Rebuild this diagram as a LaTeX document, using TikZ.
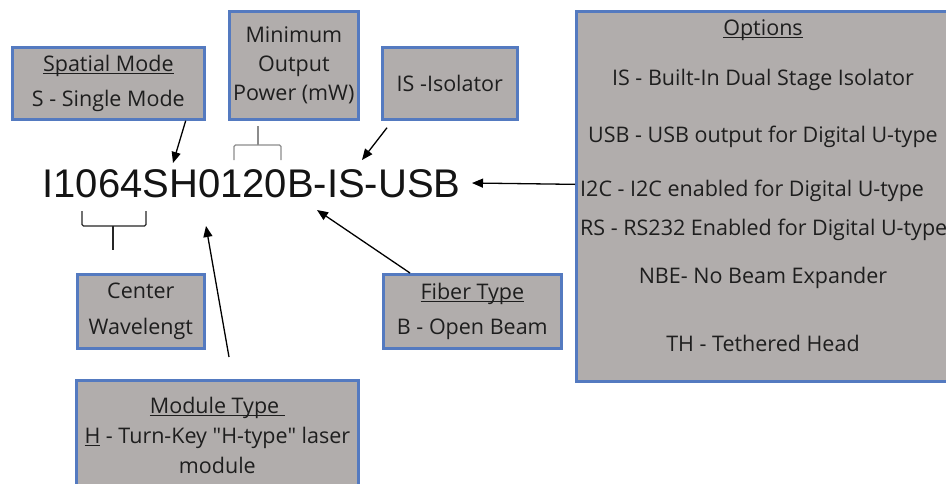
\documentclass[tikz,border=0pt]{standalone}
\usepackage{fontspec}
\setmainfont{Open Sans}[Ligatures=TeXOff]
\newfontfamily\arialf{Liberation Sans}
\usetikzlibrary{arrows.meta}
\definecolor{boxfill}{RGB}{177,173,172}
\definecolor{boxline}{RGB}{84,122,192}
\definecolor{txt}{RGB}{30,30,30}
\definecolor{brk}{RGB}{140,140,140}
\newcommand\ulx[1]{\setbox0\hbox{#1}\leavevmode\rlap{\rule[-3pt]{\wd0}{1.1pt}}\box0\relax}
\begin{document}
\begin{tikzpicture}[x=1pt,y=-1pt,
  box/.style={draw=boxline,line width=2.7pt,fill=boxfill,inner sep=0pt,text=txt,align=center,anchor=north west},
  opt/.style={text=txt,font=\fontsize{21.5}{25}\selectfont,inner sep=0pt},
  arr/.style={-{Triangle[length=11pt,width=9pt]},line width=1.3pt,black}]
\useasboundingbox (0,0) rectangle (946,483);
\fill[white] (0,0) rectangle (946,483);

% boxes
\node[box,minimum width=192pt,minimum height=72pt,font=\fontsize{21.5}{35}\selectfont] (spatial) at (11,46) {\ulx{Spatial Mode}\\S - Single Mode};
\node[box,minimum width=129pt,minimum height=108pt,font=\fontsize{21.5}{29}\selectfont] (power) at (228,10) {Minimum\\Output\\Power (mW)};
\node[box,minimum width=135pt,minimum height=72pt,font=\fontsize{21.5}{35}\selectfont] (iso) at (381,46) {IS -Isolator};
\node[box,minimum width=127pt,minimum height=74pt,font=\fontsize{21.5}{36}\selectfont] (center) at (76,273) {Center\\Wavelengt};
\node[box,minimum width=178pt,minimum height=74pt,font=\fontsize{21.5}{35}\selectfont] (fiber) at (382,273) {\ulx{Fiber Type}\\B - Open Beam};
\node[box,minimum width=282pt,minimum height=110pt,font=\fontsize{21.5}{30}\selectfont] (module) at (75,379) {\ulx{Module Type\ }\\\ulx{H} - Turn-Key "H-type" laser\\module};
\node[box,minimum width=375pt,minimum height=370pt] (options) at (575,10) {};

% options text
\node[opt] (o0) at (763,30) {\ulx{Options}};
\node[opt] (o1) at (763,80) {IS - Built-In Dual Stage Isolator};
\node[opt] (o2) at (763,137) {USB - USB output for Digital U-type};
\node[opt,anchor=west] (o3) at (580,191) {I2C - I2C enabled for Digital U-type};
\node[opt,anchor=west] (o4) at (580,230) {RS - RS232 Enabled for Digital U-type};
\node[opt] (o5) at (763,278) {NBE- No Beam Expander};
\node[opt] (o6) at (763,343) {TH - Tethered Head};

% code
\node[font=\arialf\fontsize{40}{40}\selectfont,anchor=base,inner sep=0pt,text=black!92] (code) at (251.5,197) {I1064SH0120B-IS-USB};

% brackets
\draw[line width=1.2pt,black!85,rounded corners=1.5pt] (82,211) -- (82,226) -- (146,226) -- (146,211);
\draw[line width=1.2pt,black!85] (113,226) -- (113,250);
\draw[line width=1.1pt,brk,rounded corners=1.5pt] (234,160) -- (234,145) -- (281,145) -- (281,160);
\draw[line width=1.1pt,brk] (258,145) -- (258,126);

% arrows
\coordinate (tSp) at (173,163);
\coordinate (tIso) at (362,160);
\coordinate (tUsb) at (472,183);
\coordinate (tFib) at (317,210);
\coordinate (tMod) at (206,226);
\draw[arr] ([xshift=-20pt]spatial.south east) -- (tSp);
\draw[arr] ([xshift=6pt,yshift=-7pt]iso.south west) -- (tIso);
\draw[arr] ([yshift=12pt]options.west) -- (tUsb);
\draw[arr] ([xshift=28pt]fiber.north west) -- (tFib);
\draw[arr] ([xshift=154pt,yshift=22pt]module.north west) -- (tMod);
\end{tikzpicture}
\end{document}
